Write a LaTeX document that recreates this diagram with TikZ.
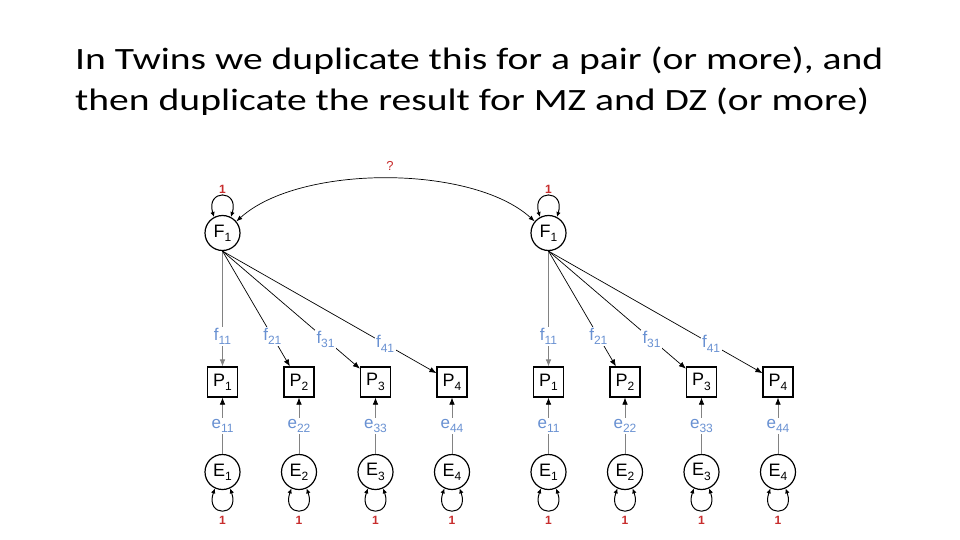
\documentclass[tikz,border=0pt]{standalone}
\usepackage{fontspec}
\usepackage{graphicx}
\setmainfont{Carlito}
\newfontfamily\labfont{Liberation Sans}
\usetikzlibrary{arrows.meta}
\definecolor{labblue}{RGB}{105,145,210}
\definecolor{labred}{RGB}{200,45,45}
\definecolor{linegray}{RGB}{130,130,130}
\newcommand\subs[1]{\raisebox{-0.45ex}{\fontsize{12}{12}\selectfont #1}}
\newcommand\stretchtext[1]{\scalebox{1.277}[1]{#1}}
\begin{document}
\begin{tikzpicture}[x=1pt,y=-1pt,
  latent/.style={circle,draw,line width=1.2pt,minimum size=35pt,inner sep=0pt,font=\labfont\fontsize{18}{18}\selectfont},
  manifest/.style={rectangle,draw,line width=1.2pt,minimum size=30pt,inner sep=0pt,font=\labfont\fontsize{18}{18}\selectfont},
  pathlabel/.style={fill=white,inner sep=1.5pt,text=labblue,font=\labfont\fontsize{17}{17}\selectfont},
  onelab/.style={text=labred,inner sep=0pt,font=\labfont\bfseries\fontsize{12}{12}\selectfont},
  tip/.style={-{Latex[length=7pt,width=5.5pt]}},
  loadblack/.style={tip,line width=0.7pt,black},
  loadgray/.style={tip,line width=0.7pt,linegray},
  errpath/.style={-{Latex[length=7pt,width=5.5pt,color=black]},line width=0.7pt,linegray},
  varloop/.style={{Latex[length=5pt,width=4.5pt]}-{Latex[length=5pt,width=4.5pt]},line width=1pt},
  covpath/.style={{Latex[length=6pt,width=4.5pt]}-{Latex[length=6pt,width=4.5pt]},line width=0.7pt},
  titletext/.style={anchor=base west,inner sep=0pt,font=\fontsize{31}{31}\selectfont}
]
\useasboundingbox[fill=white] (0,0) rectangle (960,540);
\node[titletext] (t1) at (75,69.5) {\stretchtext{In Twins we duplicate this for a pair (or more), and}};
\node[titletext] (t2) at (75,110.5) {\stretchtext{then duplicate the result for MZ and DZ (or more)}};

\foreach \s/\dx in {a/0,b/326}{
  \node[latent] (F\s) at (222.5+\dx,233) {F\subs{1}};
  \draw[varloop] (F\s.118) .. controls +(-8.5,-28) and +(8.5,-28) .. (F\s.62);
  \node[onelab] (oneF\s) at (222.5+\dx,189) {1};
  \foreach \i in {1,...,4}{
    \pgfmathsetmacro\xx{222.5+\dx+76.5*(\i-1)}
    \node[manifest] (P\i\s) at (\xx,382) {P\subs{\i}};
    \node[latent] (E\i\s) at (\xx,472) {E\subs{\i}};
    \draw[errpath] (E\i\s) -- node[pathlabel]{e\subs{\i\i}} (P\i\s);
    \draw[varloop] (E\i\s.245) .. controls +(-10,29) and +(10,29) .. (E\i\s.295);
    \node[onelab] (oneE\i\s) at (\xx,520) {1};
  }
  \draw[loadgray] (F\s) -- node[pathlabel,pos=0.74]{f\subs{11}} (P1\s);
  \draw[loadblack] (F\s.south) -- node[pathlabel,pos=0.74]{f\subs{21}} (P2\s);
  \draw[loadblack] (F\s.south) -- node[pathlabel,pos=0.75]{f\subs{31}} (P3\s);
  \draw[loadblack] (F\s.south) -- node[pathlabel,pos=0.76]{f\subs{41}} (P4\s);
}
\draw[covpath] (Fa.40) .. controls +(63,-57) and +(-63,-57) .. (Fb.140);
\node[text=labred,inner sep=0pt,font=\labfont\fontsize{13}{13}\selectfont] (q) at (390,166) {?};
\end{tikzpicture}
\end{document}
